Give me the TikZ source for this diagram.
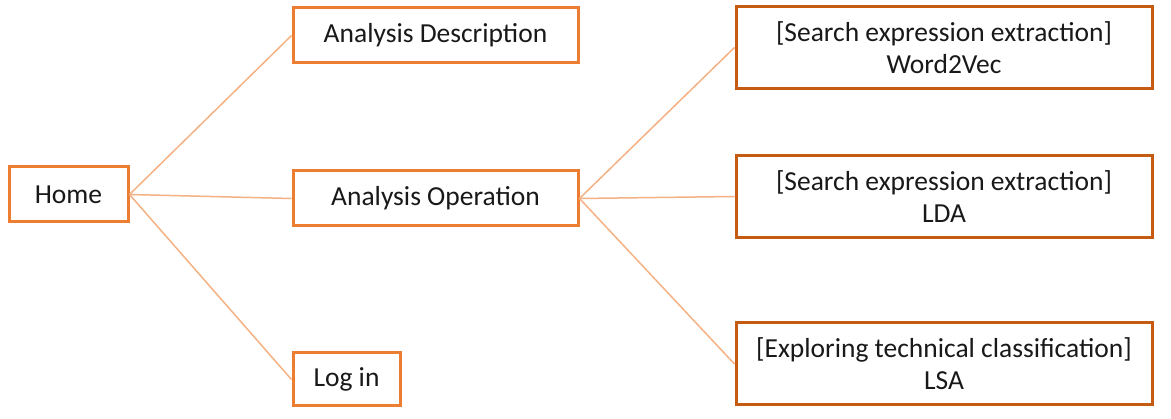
\documentclass[tikz,border=0pt]{standalone}
\usepackage{fontspec}
\setmainfont{Carlito}
\definecolor{boxorange}{HTML}{ED7D31}
\definecolor{boxred}{HTML}{C55A11}
\definecolor{linkorange}{HTML}{F4B183}
\begin{document}
\begin{tikzpicture}[x=1pt,y=-1pt,
  base/.style={draw,line width=3pt,fill=white,inner sep=0pt,align=center,
    font=\fontsize{27.5}{32}\selectfont,text=black!90},
  leftbox/.style={base,draw=boxorange},
  rightbox/.style={base,draw=boxred,minimum width=416pt,minimum height=82pt},
  link/.style={draw=linkorange,line width=1.5pt}]
\useasboundingbox (0,0) rectangle (1171,419);
\node[leftbox,minimum width=119pt,minimum height=55pt] (home) at (68.5,194.5) {Home};
\node[leftbox,minimum width=285pt,minimum height=55pt] (ad) at (435.5,35.5) {Analysis Description};
\node[leftbox,minimum width=285pt,minimum height=55pt] (ao) at (435.5,198.5) {Analysis Operation};
\node[leftbox,minimum width=107pt,minimum height=53pt] (login) at (346.5,379.5) {Log in};
\node[rightbox] (w2v) at (944,47.5) {[Search expression extraction]\\Word2Vec};
\node[rightbox] (lda) at (944,196.5) {[Search expression extraction]\\LDA};
\node[rightbox] (lsa) at (944,364) {[Exploring technical classification]\\LSA};
\draw[link] (home.east) -- (ad.west);
\draw[link] (home.east) -- (ao.west);
\draw[link] (home.east) -- (login.west);
\draw[link] (ao.east) -- (w2v.west);
\draw[link] (ao.east) -- (lda.west);
\draw[link] (ao.east) -- (lsa.west);
\end{tikzpicture}
\end{document}
